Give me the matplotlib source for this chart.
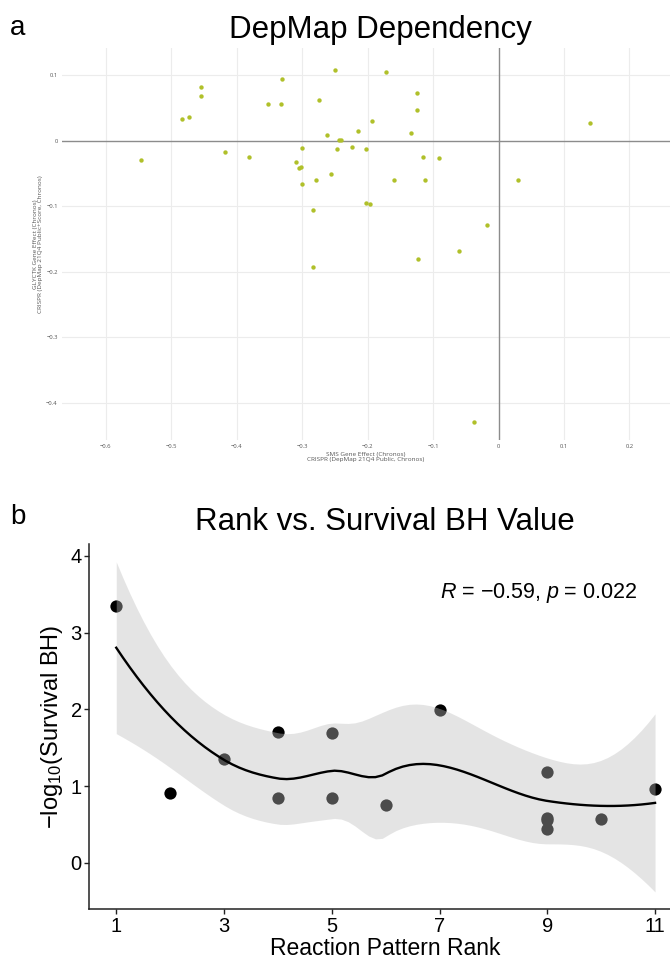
import math
import numpy as np
import matplotlib.pyplot as plt

# panel a: DepMap CRISPR gene effects (Chronos), one point per cell line
sms_effect = [-0.250, -0.454, -0.455, -0.331, -0.332, -0.352, -0.275, -0.483, -0.473,
              -0.262, -0.244, -0.240, -0.547, -0.418, -0.381, -0.300, -0.247, -0.310,
              -0.305, -0.302, -0.300, -0.279, -0.256, -0.283, -0.283, -0.172, -0.125,
              -0.125, -0.194, -0.215, -0.133, 0.139, -0.224, -0.203, -0.116, -0.091,
              -0.160, -0.113, 0.029, -0.203, -0.196, -0.017, -0.061, -0.123, -0.037]
glyctk_effect = [0.108, 0.083, 0.069, 0.094, 0.057, 0.056, 0.063, 0.033, 0.036,
                 0.009, 0.002, 0.002, -0.029, -0.017, -0.024, -0.011, -0.012, -0.032,
                 -0.042, -0.040, -0.066, -0.060, -0.051, -0.105, -0.193, 0.106, 0.074,
                 0.048, 0.031, 0.015, 0.012, 0.028, -0.009, -0.012, -0.025, -0.026,
                 -0.059, -0.059, -0.059, -0.095, -0.096, -0.129, -0.168, -0.180, -0.430]
a_xticks = [-0.6, -0.5, -0.4, -0.3, -0.2, -0.1, 0, 0.1, 0.2]
a_yticks = [0.1, 0, -0.1, -0.2, -0.3, -0.4]

# panel b: reaction pattern rank vs -log10(survival BH)
rank = [1, 2, 3, 4, 4, 5, 5, 6, 7, 9, 9, 9, 9, 10, 11]
neg_log_bh = [3.34, 0.91, 1.36, 1.70, 0.85, 1.69, 0.85, 0.75, 1.99,
              1.185, 0.59, 0.56, 0.44, 0.57, 0.96]
b_xticks = [1, 3, 5, 7, 9, 11]
b_yticks = [0, 1, 2, 3, 4]


def local_rows(x, x0, q):
    # operator rows giving the local quadratic's value and slope at x0
    n = len(x)
    d = np.abs(x - x0)
    h = max(np.sort(d)[q - 1], 1e-9)
    w = np.clip(1 - (d / h) ** 3, 0, None) ** 3
    X = np.column_stack([np.ones(n), x - x0, (x - x0) ** 2])
    XtW = X.T * w
    B = np.linalg.pinv(XtW @ X) @ XtW
    return B[0], B[1]


def loess_smooth(x, y, grid, span=0.75, cell=0.2):
    # 1-d loess (degree 2) with kd-tree vertices and cubic Hermite interpolation
    x = np.asarray(x, float)
    y = np.asarray(y, float)
    n = len(x)
    q = int(np.floor(n * span))
    fc = int(np.floor(n * span * cell))
    xs = np.sort(x)
    mu = 0.005 * (xs[-1] - xs[0])
    verts = {xs[0] - mu, xs[-1] + mu}

    def split(l, u, vlo, vhi):
        if u - l + 1 <= fc:
            return
        m = (l + u) // 2
        off = 0
        while l <= m + off < u:
            if xs[m + off] == xs[m + off + 1]:
                off = -off
                if off >= 0:
                    off += 1
            else:
                m = m + off
                break
        if xs[m] == vlo or xs[m] == vhi:
            return
        verts.add(xs[m])
        split(l, m, vlo, xs[m])
        split(m + 1, u, xs[m], vhi)

    split(0, n - 1, xs[0] - mu, xs[-1] + mu)
    V = np.array(sorted(verts))
    val, slope = zip(*[local_rows(x, v, q) for v in V])
    val = np.array(val)
    slope = np.array(slope)

    def op(z):
        i = min(max(np.searchsorted(V, z) - 1, 0), len(V) - 2)
        h = V[i + 1] - V[i]
        u = (z - V[i]) / h
        p0 = (1 - u) ** 2 * (1 + 2 * u)
        p1 = u ** 2 * (3 - 2 * u)
        s0 = u * (1 - u) ** 2
        s1 = -u ** 2 * (1 - u)
        return p0 * val[i] + p1 * val[i + 1] + h * (s0 * slope[i] + s1 * slope[i + 1])

    L = np.array([op(v) for v in x])
    M = np.eye(n) - L
    R = M.T @ M
    one_delta = np.trace(R)
    two_delta = np.trace(R @ R)
    sigma = math.sqrt(np.sum((M @ y) ** 2) / one_delta)
    lg = np.array([op(v) for v in grid])
    fit = lg @ y
    se = sigma * np.sqrt(np.sum(lg ** 2, axis=1))
    return fit, se, one_delta ** 2 / two_delta


def t_quantile(p, df):
    t = np.linspace(0, 40, 400001)
    c = math.exp(math.lgamma((df + 1) / 2) - math.lgamma(df / 2)) / math.sqrt(df * math.pi)
    pdf = c * (1 + t ** 2 / df) ** (-(df + 1) / 2)
    cdf = 0.5 + np.concatenate([[0], np.cumsum((pdf[1:] + pdf[:-1]) / 2 * np.diff(t))])
    return float(np.interp(p, cdf, t))


def minus(v):
    return ('%g' % v).replace('-', '\u2212')


plt.rcParams['mathtext.fontset'] = 'custom'
plt.rcParams['mathtext.rm'] = 'Liberation Sans'
plt.rcParams['mathtext.it'] = 'Liberation Sans:italic'

fig = plt.figure(figsize=(6.7, 9.59), dpi=100)

# ---- panel a ----
ax1 = fig.add_axes([62 / 670, 1 - 440 / 959, 608 / 670, 392 / 959])
ax1.set_xlim(-0.667, 0.262)
ax1.set_ylim(-0.457, 0.142)
for t in a_xticks:
    if t != 0:
        ax1.axvline(t, color='#ececec', lw=0.8, zorder=0)
for t in a_yticks:
    if t != 0:
        ax1.axhline(t, color='#ececec', lw=0.8, zorder=0)
ax1.axvline(0, color='#8c8c8c', lw=1.0, zorder=1)
ax1.axhline(0, color='#8c8c8c', lw=1.0, zorder=1)
ax1.scatter(sms_effect, glyctk_effect, s=10, color='#b0c02a', linewidths=0, zorder=3)
for sp in ax1.spines.values():
    sp.set_visible(False)
ax1.set_xticks(a_xticks)
ax1.set_xticklabels([minus(t) for t in a_xticks])
ax1.set_yticks(a_yticks)
ax1.set_yticklabels([minus(t) for t in a_yticks])
ax1.tick_params(length=0, labelsize=4.2, labelcolor='#555555', pad=3)
for lab in ax1.get_xticklabels() + ax1.get_yticklabels():
    lab.set_fontfamily('Open Sans')
ax1.set_xlabel('SMS Gene Effect (Chronos)\nCRISPR (DepMap 21Q4 Public, Chronos)',
               fontsize=4.6, color='#555555', family='Open Sans', labelpad=2, linespacing=1.1)
ax1.set_ylabel('GLYCTK Gene Effect (Chronos)\nCRISPR (DepMap 21Q4 Public+Score, Chronos)',
               fontsize=4.6, color='#555555', family='Open Sans', labelpad=2, linespacing=1.1)
fig.text(380 / 670, 1 - 30 / 959, 'DepMap Dependency', ha='center', va='center',
         fontsize=22.5, family='Liberation Sans')
fig.text(10 / 670, 1 - 28 / 959, 'a', ha='left', va='center', fontsize=20,
         family='Liberation Sans')

# ---- panel b ----
ax2 = fig.add_axes([89.3 / 670, 1 - 909 / 959, (682 - 89.3) / 670, (909 - 544.3) / 959])
ax2.set_xlim(0.5, 11.5)
ax2.set_ylim(-0.60, 4.15)

grid = np.linspace(min(rank), max(rank), 80)
fit, se, df = loess_smooth(rank, neg_log_bh, grid)
tq = t_quantile(0.975, df)

ax2.scatter(rank, neg_log_bh, s=78, color='black', linewidths=0, zorder=2)
ax2.fill_between(grid, fit - tq * se, fit + tq * se, color='#bdbdbd', alpha=0.4,
                 linewidth=0, zorder=3)
ax2.plot(grid, fit, color='black', lw=1.7, zorder=4)

ax2.spines['top'].set_visible(False)
ax2.spines['right'].set_visible(False)
for s in ['left', 'bottom']:
    ax2.spines[s].set_linewidth(1.1)
    ax2.spines[s].set_color('#222222')
ax2.set_xticks(b_xticks)
ax2.set_yticks(b_yticks)
ax2.tick_params(length=3.5, width=1.0, color='#222222', labelsize=14.5, pad=2)
for lab in ax2.get_xticklabels() + ax2.get_yticklabels():
    lab.set_fontfamily('Liberation Sans')
ax2.set_xlabel('Reaction Pattern Rank', fontsize=16.5, family='Liberation Sans', labelpad=1)
ax2.set_ylabel(r'$-\mathrm{log}_{10}$(Survival BH)', fontsize=17,
               family='Liberation Sans', labelpad=4)
ax2.text(7.0, 3.52, r'$R$ = $-$0.59, $p$ = 0.022', fontsize=15.5,
         family='Liberation Sans', ha='left', va='center')
fig.text(385 / 670, 1 - 522 / 959, 'Rank vs. Survival BH Value', ha='center', va='center',
         fontsize=22.5, family='Liberation Sans')
fig.text(10 / 670, 1 - 517 / 959, 'b', ha='left', va='center', fontsize=20,
         family='Liberation Sans')

fig.savefig('out.png', dpi=100)
